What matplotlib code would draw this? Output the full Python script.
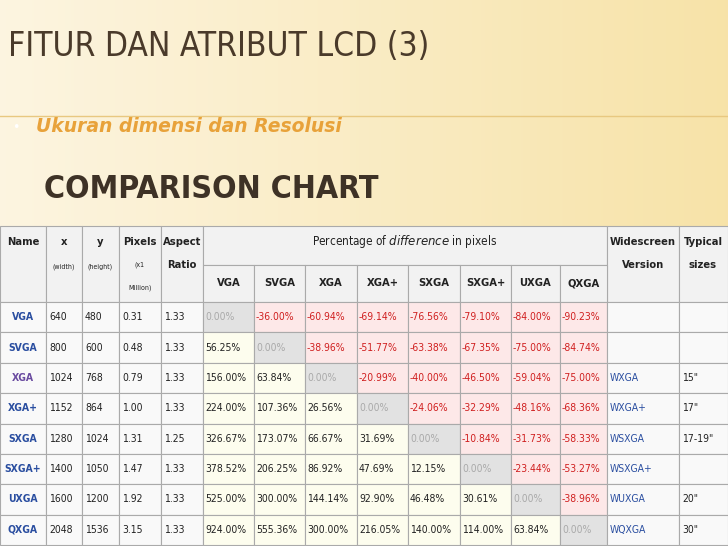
import matplotlib
matplotlib.use("Agg")
import matplotlib.pyplot as plt
import numpy as np
from matplotlib.patches import Rectangle

NAMES = ["VGA", "SVGA", "XGA", "XGA+", "SXGA", "SXGA+", "UXGA", "QXGA"]
WIDTHS = ["640", "800", "1024", "1152", "1280", "1400", "1600", "2048"]
HEIGHTS = ["480", "600", "768", "864", "1024", "1050", "1200", "1536"]
PIXELS = ["0.31", "0.48", "0.79", "1.00", "1.31", "1.47", "1.92", "3.15"]
ASPECT = ["1.33", "1.33", "1.33", "1.33", "1.25", "1.33", "1.33", "1.33"]
DIFFS = [
    [0.00, -36.00, -60.94, -69.14, -76.56, -79.10, -84.00, -90.23],
    [56.25, 0.00, -38.96, -51.77, -63.38, -67.35, -75.00, -84.74],
    [156.00, 63.84, 0.00, -20.99, -40.00, -46.50, -59.04, -75.00],
    [224.00, 107.36, 26.56, 0.00, -24.06, -32.29, -48.16, -68.36],
    [326.67, 173.07, 66.67, 31.69, 0.00, -10.84, -31.73, -58.33],
    [378.52, 206.25, 86.92, 47.69, 12.15, 0.00, -23.44, -53.27],
    [525.00, 300.00, 144.14, 92.90, 46.48, 30.61, 0.00, -38.96],
    [924.00, 555.36, 300.00, 216.05, 140.00, 114.00, 63.84, 0.00],
]
WIDESCREEN = ["", "", "WXGA", "WXGA+", "WSXGA", "WSXGA+", "WUXGA", "WQXGA"]
SIZES = ["", "", '15"', '17"', '17-19"', "", '20"', '30"']

W, H = 728, 546
COLS = [0, 46, 82, 119, 161, 203, 254, 305, 357, 408, 460, 511, 560, 607, 679, 728]
TOP, HDR1, HDR2 = 226, 265, 302
ROW_H = (545 - HDR2) / 8
FAM = "DejaVu Sans"
ST = "condensed"

fig = plt.figure(figsize=(W / 100, H / 100), dpi=100)
ax = fig.add_axes([0, 0, 1, 1])
ax.set_xlim(0, W)
ax.set_ylim(H, 0)
ax.axis("off")

# background gradient
grad = np.linspace(0, 1, 256)
c0 = np.array([0.99, 0.96, 0.88])
c1 = np.array([0.97, 0.89, 0.66])
img = c0 + (c1 - c0) * grad[None, :, None]
ax.imshow(np.repeat(img, 2, axis=0), extent=[0, W, 226, 0], aspect="auto", zorder=0)
ax.plot([0, W], [116, 116], color="#e8c880", lw=1, zorder=1)

ax.text(8, 46, "FITUR DAN ATRIBUT LCD (3)", fontsize=24, color="#4a3a2a",
        family=FAM, stretch=ST, va="center")
ax.text(12, 127, "•", fontsize=9, color="white", va="center")
ax.text(36, 127, "Ukuran dimensi dan Resolusi", fontsize=13.5, color="#e8a23a",
        style="italic", weight="bold", va="center")
ax.text(44, 190, "COMPARISON CHART", fontsize=23, color="#3e3226", weight="bold",
        family=FAM, stretch=ST, va="center")


def cell(x0, x1, y0, y1, face):
    ax.add_patch(Rectangle((x0, y0), x1 - x0, y1 - y0, facecolor=face,
                           edgecolor="#aaaaaa", lw=0.8, zorder=2))


# header
hdr_font = dict(family=FAM, stretch=ST, fontsize=8, weight="bold", color="#222222", zorder=3)
small = dict(family=FAM, stretch=ST, fontsize=5, color="#222222", zorder=3)
for i in [0, 1, 2, 3, 4]:
    cell(COLS[i], COLS[i + 1], TOP, HDR2, "#f2f2f2")
cell(COLS[5], COLS[13], TOP, HDR1, "#f2f2f2")
cell(COLS[13], COLS[14], TOP, HDR2, "#f2f2f2")
cell(COLS[14], COLS[15], TOP, HDR2, "#f2f2f2")
ax.text(23, 242, "Name", ha="center", va="center", **hdr_font)
ax.text(64, 242, "x", ha="center", va="center", **hdr_font)
ax.text(64, 267, "(width)", ha="center", va="center", **small)
ax.text(100, 242, "y", ha="center", va="center", **hdr_font)
ax.text(100, 267, "(height)", ha="center", va="center", **small)
ax.text(140, 242, "Pixels", ha="center", va="center", **hdr_font)
ax.text(140, 265, "(x1", ha="center", va="center", **small)
ax.text(140, 288, "Million)", ha="center", va="center", **small)
ax.text(182, 242, "Aspect", ha="center", va="center", **hdr_font)
ax.text(182, 265, "Ratio", ha="center", va="center", **hdr_font)
ax.text((COLS[5] + COLS[13]) / 2, 242, "Percentage of $\\it{difference}$ in pixels",
        ha="center", va="center", family=FAM, stretch=ST, fontsize=8.5,
        color="#222222", zorder=3)
ax.text(643, 242, "Widescreen", ha="center", va="center", **hdr_font)
ax.text(643, 265, "Version", ha="center", va="center", **hdr_font)
ax.text(703, 242, "Typical", ha="center", va="center", **hdr_font)
ax.text(703, 265, "sizes", ha="center", va="center", **hdr_font)
for j, name in enumerate(NAMES):
    cell(COLS[5 + j], COLS[6 + j], HDR1, HDR2, "#f2f2f2")
    ax.text((COLS[5 + j] + COLS[6 + j]) / 2, 283, name, ha="center", va="center", **hdr_font)

# body
body = dict(family=FAM, stretch=ST, fontsize=7.5, va="center", zorder=3)
for r, name in enumerate(NAMES):
    y0 = HDR2 + r * ROW_H
    y1 = y0 + ROW_H
    yc = (y0 + y1) / 2
    for i in range(5):
        cell(COLS[i], COLS[i + 1], y0, y1, "#f9f9f9")
    ax.text(23, yc, name, ha="center", weight="bold",
            color="#6a4ba0" if name == "XGA" else "#2a4ea0", **body)
    for i, val in enumerate([WIDTHS[r], HEIGHTS[r], PIXELS[r], ASPECT[r]]):
        ax.text(COLS[i + 1] + 3, yc, val, color="#222222", **body)
    for j, v in enumerate(DIFFS[r]):
        if j == r:
            face, col = "#e2e2e2", "#aaaaaa"
        elif v < 0:
            face, col = "#fde8e8", "#d02020"
        else:
            face, col = "#fdfdee", "#222222"
        cell(COLS[5 + j], COLS[6 + j], y0, y1, face)
        ax.text(COLS[5 + j] + 2, yc, f"{v:.2f}%", color=col, **body)
    cell(COLS[13], COLS[14], y0, y1, "#f9f9f9")
    cell(COLS[14], COLS[15], y0, y1, "#f9f9f9")
    ax.text(COLS[13] + 3, yc, WIDESCREEN[r], color="#2a4ea0", **body)
    ax.text(COLS[14] + 3, yc, SIZES[r], color="#222222", **body)

fig.savefig("out.png", dpi=100)
